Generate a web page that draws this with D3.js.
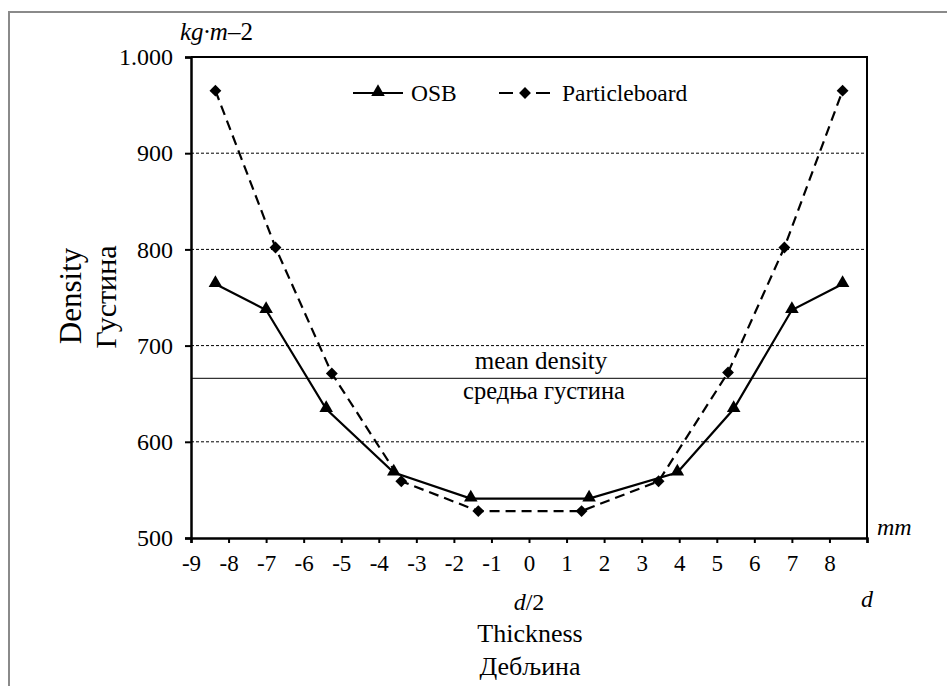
<!DOCTYPE html>
<html>
<head>
<meta charset="utf-8">
<script src="https://cdn.jsdelivr.net/npm/d3@7"></script>
<style>
  body { margin: 0; background: #fff; }
  svg text { font-family: "Liberation Serif", "Times New Roman", serif !important; fill: #000; }
</style>
</head>
<body>
<div id="main"></div>
<script>
// thickness position (mm) and density values
const osbX = [-8.35, -7, -5.4, -3.6, -1.55, 1.6, 3.95, 5.45, 7, 8.35]
const osbY = [764, 737, 634, 568, 541, 541, 568, 634, 737, 764]
const pbX = [-8.35, -6.75, -5.25, -3.4, -1.35, 1.4, 3.45, 5.3, 6.8, 8.35]
const pbY = [965, 802, 671, 559, 528, 528, 559, 672, 802, 965]
const meanDensity = 666
const xTicks = [-9, -8, -7, -6, -5, -4, -3, -2, -1, 0, 1, 2, 3, 4, 5, 6, 7, 8, 9]
const yTicks = [500, 600, 700, 800, 900, 1000]

const ctx = {
    w: 947,
    h: 686,
    left: 191,
    right: 867,
    top: 57,
    bottom: 538
}

function createViz() {
    let svg = d3.select('#main').append('svg')
        .attr('width', ctx.w)
        .attr('height', ctx.h)

    // outer frame
    svg.append('rect')
        .attr('x', 9).attr('y', 12)
        .attr('width', 960).attr('height', 700)
        .attr('fill', 'none')
        .attr('stroke', '#8a8a8a')
        .attr('stroke-width', 2)

    let x = d3.scaleLinear().domain([-9, 9]).range([ctx.left, ctx.right])
    let y = d3.scaleLinear().domain([500, 1000]).range([ctx.bottom, ctx.top])

    // gridlines
    svg.append('g').selectAll('line')
        .data(yTicks.filter(d => d > 500 && d < 1000))
        .join('line')
        .attr('x1', ctx.left).attr('x2', ctx.right)
        .attr('y1', d => y(d)).attr('y2', d => y(d))
        .attr('stroke', '#000')
        .attr('stroke-width', 1)
        .attr('stroke-dasharray', '3,2')

    // top and right frame of the plot
    svg.append('path')
        .attr('d', `M${ctx.left},${ctx.top}H${ctx.right}V${ctx.bottom}`)
        .attr('fill', 'none')
        .attr('stroke', '#000')
        .attr('stroke-width', 2)

    // mean density line
    svg.append('line')
        .attr('x1', ctx.left).attr('x2', ctx.right)
        .attr('y1', y(meanDensity)).attr('y2', y(meanDensity))
        .attr('stroke', '#000')
        .attr('stroke-width', 1)
    svg.append('text')
        .attr('x', 541).attr('y', y(meanDensity) - 9)
        .attr('text-anchor', 'middle')
        .attr('font-size', 25)
        .text('mean density')
    svg.append('text')
        .attr('x', 544).attr('y', y(meanDensity) + 21)
        .attr('text-anchor', 'middle')
        .attr('font-size', 24.5)
        .text('средња густина')

    // axes
    let xAxis = svg.append('g')
        .attr('transform', `translate(0,${ctx.bottom})`)
        .call(d3.axisBottom(x).tickValues(xTicks).tickSize(5).tickPadding(12)
            .tickFormat(d => d === 9 ? '' : d3.format('d')(d).replace('−', '-')))
    xAxis.select('.domain').attr('stroke-width', 2.5)
    xAxis.selectAll('.tick line').attr('stroke-width', 2)
    xAxis.selectAll('.tick text').attr('font-size', 23)

    let yAxis = svg.append('g')
        .attr('transform', `translate(${ctx.left},0)`)
        .call(d3.axisLeft(y).tickValues(yTicks).tickSize(6).tickPadding(12)
            .tickFormat(d => d === 1000 ? '1.000' : d))
    yAxis.select('.domain').attr('stroke-width', 2.5)
    yAxis.selectAll('.tick line').attr('stroke-width', 2)
    yAxis.selectAll('.tick text').attr('font-size', 24)

    // series
    let osb = osbX.map((v, i) => ({ x: v, y: osbY[i] }))
    let pb = pbX.map((v, i) => ({ x: v, y: pbY[i] }))
    let line = d3.line().x(d => x(d.x)).y(d => y(d.y))

    svg.append('path')
        .datum(pb)
        .attr('fill', 'none')
        .attr('stroke', '#000')
        .attr('stroke-width', 2.2)
        .attr('stroke-dasharray', '10,6')
        .attr('d', line)

    svg.append('path')
        .datum(osb)
        .attr('fill', 'none')
        .attr('stroke', '#000')
        .attr('stroke-width', 2.2)
        .attr('d', line)

    let tri = d3.symbol().type(d3.symbolTriangle).size(80)
    // square turned by 45 degrees gives the even diamond of the original
    let dia = d3.symbol().type(d3.symbolSquare).size(70)

    svg.append('g').selectAll('path')
        .data(pb)
        .join('path')
        .attr('transform', d => `translate(${x(d.x)},${y(d.y)}) rotate(45)`)
        .attr('d', dia)
        .attr('fill', '#000')

    svg.append('g').selectAll('path')
        .data(osb)
        .join('path')
        .attr('transform', d => `translate(${x(d.x)},${y(d.y) - 1})`)
        .attr('d', tri)
        .attr('fill', '#000')

    // legend
    let lg = svg.append('g')
    lg.append('line')
        .attr('x1', 353).attr('x2', 403).attr('y1', 93).attr('y2', 93)
        .attr('stroke', '#000').attr('stroke-width', 2.2)
    lg.append('path')
        .attr('transform', 'translate(378,92)')
        .attr('d', tri).attr('fill', '#000')
    lg.append('text')
        .attr('x', 411).attr('y', 101)
        .attr('font-size', 23.5)
        .text('OSB')
    lg.append('line')
        .attr('x1', 499).attr('x2', 550).attr('y1', 93).attr('y2', 93)
        .attr('stroke', '#000').attr('stroke-width', 2.2)
        .attr('stroke-dasharray', '14,23')
    lg.append('path')
        .attr('transform', 'translate(525,93) rotate(45)')
        .attr('d', dia).attr('fill', '#000')
    lg.append('text')
        .attr('x', 562).attr('y', 101)
        .attr('font-size', 23.5)
        .text('Particleboard')

    // units
    let unit = svg.append('text')
        .attr('x', 180).attr('y', 40)
        .attr('font-size', 25)
    unit.append('tspan').attr('font-style', 'italic').text('kg·m')
    unit.append('tspan').text('–2')

    svg.append('text')
        .attr('x', 877).attr('y', 535)
        .attr('font-size', 24)
        .attr('font-style', 'italic')
        .text('mm')

    svg.append('text')
        .attr('x', x(9)).attr('y', 607)
        .attr('text-anchor', 'middle')
        .attr('font-size', 24)
        .attr('font-style', 'italic')
        .text('d')

    let half = svg.append('text')
        .attr('x', x(0)).attr('y', 610)
        .attr('text-anchor', 'middle')
        .attr('font-size', 24)
    half.append('tspan').attr('font-style', 'italic').text('d')
    half.append('tspan').text('/2')

    // axis titles
    svg.append('text')
        .attr('x', 530).attr('y', 642)
        .attr('text-anchor', 'middle')
        .attr('font-size', 26)
        .text('Thickness')
    svg.append('text')
        .attr('x', 530).attr('y', 675)
        .attr('text-anchor', 'middle')
        .attr('font-size', 26)
        .text('Дебљина')

    svg.append('text')
        .attr('transform', 'translate(81,296) rotate(-90)')
        .attr('text-anchor', 'middle')
        .attr('font-size', 31)
        .text('Density')
    svg.append('text')
        .attr('transform', 'translate(116,297) rotate(-90)')
        .attr('text-anchor', 'middle')
        .attr('font-size', 30)
        .text('Густина')
}

createViz()
</script>
</body>
</html>
